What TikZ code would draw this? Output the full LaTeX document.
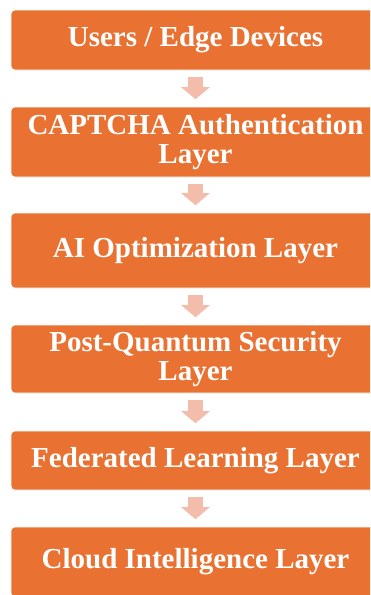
\documentclass[tikz,border=0pt]{standalone}
\usepackage{fontspec}
\setmainfont{Liberation Serif}
\usetikzlibrary{arrows.meta,calc}
\definecolor{layerorange}{HTML}{E97132}
\definecolor{arrowpink}{HTML}{F3BCAB}
\tikzset{
  layerbox/.style={fill=layerorange, draw=white, line width=0.6pt, rounded corners=4pt,
    minimum width=369pt, inner sep=0pt, align=center, text=white,
    font=\bfseries\fontsize{29}{29.5}\selectfont},
  flowarrow/.style={draw=arrowpink, line width=15pt,
    -{Triangle[width=28pt,length=12pt]}}
}
\begin{document}
\begin{tikzpicture}[x=1pt,y=1pt]
\useasboundingbox (0,0) rectangle (370,-595);
\clip (0,0) rectangle (370,-595);
\node[layerbox, minimum height=60pt] (b1) at (195.5,-40) {Users / Edge Devices};
\node[layerbox, minimum height=70pt] (b2) at (195.5,-142) {CAPTCHA Authentication\\Layer};
\node[layerbox, minimum height=75pt] (b3) at (195.5,-250.5) {AI Optimization Layer};
\node[layerbox, minimum height=68pt] (b4) at (195.5,-359) {Post-Quantum Security\\Layer};
\node[layerbox, minimum height=59pt] (b5) at (195.5,-460.5) {Federated Learning Layer};
\node[layerbox, minimum height=70pt] (b6) at (195.5,-562) {Cloud Intelligence Layer};
\foreach \a/\b in {b1/b2,b2/b3,b3/b4,b4/b5,b5/b6}{
  \draw[flowarrow] ($(\a.south)+(0,-6.5)$) -- ($(\b.north)+(0,7.5)$);
}
\end{tikzpicture}
\end{document}
